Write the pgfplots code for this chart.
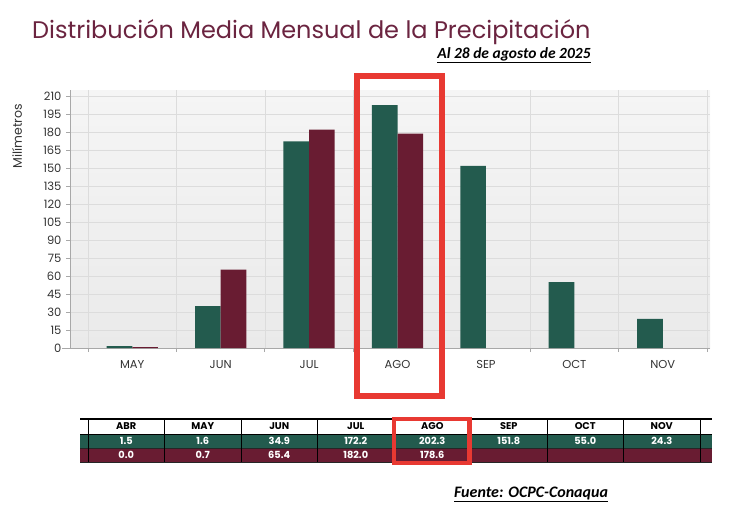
\documentclass[border=0pt]{standalone}
\usepackage{pgfplots}
\pgfplotsset{compat=1.18}
\usepackage{fontspec}
\setmainfont{Poppins}
\newfontfamily\calibri{Carlito}

\definecolor{mxgreen}{HTML}{235B4E}
\definecolor{mxmaroon}{HTML}{691C32}
\definecolor{titlecol}{HTML}{6B2440}
\definecolor{redbox}{RGB}{232,57,50}
\definecolor{axisgray}{HTML}{A8A8A8}
\definecolor{gridgray}{HTML}{DCDCDC}
\definecolor{bgtop}{HTML}{F5F5F5}
\definecolor{bgbot}{HTML}{EAEAEA}
\definecolor{ticktext}{HTML}{333333}

\begin{document}
\begin{tikzpicture}
\path[use as bounding box] (0,0) rectangle (738pt,-506pt);

% title block
\node[anchor=base west, text=titlecol, font=\fontsize{24}{28}\selectfont, inner sep=0pt]
  at (32pt,-38pt) {Distribución Media Mensual de la Precipitación};
\node[anchor=base, font=\calibri\bfseries\itshape\fontsize{15.5}{18}\selectfont, inner sep=0pt]
  at (514pt,-58pt) {\underline{Al 28 de agosto de 2025}};

% monthly precipitation bars
\begin{axis}[
  at={(70pt,-348pt)}, anchor=south west,
  scale only axis, width=640pt, height=258pt,
  xmin=0.296, xmax=7.534, ymin=0, ymax=215,
  ybar=0pt, bar width=0.29,
  axis x line*=bottom, axis y line*=left,
  axis line style={draw=axisgray, line width=0.8pt},
  ytick={0,15,...,210},
  xtick={1,...,7},
  xticklabels={MAY,JUN,JUL,AGO,SEP,OCT,NOV},
  minor xtick={0.5,1.5,...,7.5},
  xminorgrids, ymajorgrids,
  major grid style={draw=gridgray, line width=0.8pt},
  minor grid style={draw=gridgray, line width=0.7pt},
  tick align=outside,
  major x tick style={draw=none},
  tick style={draw=axisgray, line width=0.8pt},
  major tick length=4pt, minor tick length=4pt,
  axis background/.style={top color=bgtop, bottom color=bgbot},
  tick label style={font=\fontsize{11.5}{13}\selectfont, text=ticktext},
  /pgf/number format/assume math mode=true,
  yticklabel style={xshift=-1pt},
  xticklabel style={yshift=-5pt},
]
\addplot[fill=mxgreen, draw=none] coordinates
  {(0,1.5) (1,1.6) (2,34.9) (3,172.2) (4,202.3) (5,151.8) (6,55.0) (7,24.3)};
\addplot[fill=mxmaroon, draw=none] coordinates
  {(0,0.0) (1,0.7) (2,65.4) (3,182.0) (4,178.6)};
\end{axis}
\draw[axisgray, line width=0.8pt] (62pt,-348pt) -- (70pt,-348pt);

\node[rotate=90, font=\fontsize{12.5}{14}\selectfont, text=ticktext] at (17pt,-136pt) {Milímetros};

% highlight of the current month
\draw[redbox, line width=6pt] (356.5pt,-76pt) rectangle (441.5pt,-395.5pt);

% data table
\fill[white] (80pt,-419pt) rectangle (712pt,-434pt);
\fill[mxgreen] (80pt,-434pt) rectangle (712pt,-448pt);
\fill[mxmaroon] (80pt,-448pt) rectangle (712pt,-462pt);
\draw[black, line width=1.1pt] (80pt,-419pt) -- (712pt,-419pt);
\draw[black, line width=0.8pt] (80pt,-434pt) -- (712pt,-434pt);
\draw[black!85, line width=0.6pt] (80pt,-448pt) -- (712pt,-448pt);
\draw[black!85, line width=0.6pt] (80pt,-462pt) -- (712pt,-462pt);
\foreach \i in {0,...,8}
  \draw[black, line width=0.8pt] ({88pt+76.5pt*\i},-419pt) -- ({88pt+76.5pt*\i},-462pt);
\foreach \m/\a/\b [count=\i from 0] in
  {ABR/1.5/0.0, MAY/1.6/0.7, JUN/34.9/65.4, JUL/172.2/182.0,
   AGO/202.3/178.6, SEP/151.8/, OCT/55.0/, NOV/24.3/}{
  \node[font=\bfseries\fontsize{9.8}{11}\selectfont, inner sep=0pt]
    at ({126.25pt+76.5pt*\i},-426.5pt) {\m};
  \node[font=\bfseries\fontsize{9.8}{11}\selectfont, text=white, inner sep=0pt]
    at ({126.25pt+76.5pt*\i},-441pt) {\a};
  \node[font=\bfseries\fontsize{9.8}{11}\selectfont, text=white, inner sep=0pt]
    at ({126.25pt+76.5pt*\i},-455pt) {\b};
}
\draw[redbox, line width=4.5pt] (394pt,-419pt) rectangle (469.5pt,-463pt);

% source
\node[anchor=base, font=\calibri\bfseries\itshape\fontsize{16}{19}\selectfont, inner sep=0pt]
  at (531pt,-497pt) {\underline{Fuente: OCPC-Conaqua}};
\end{tikzpicture}
\end{document}
